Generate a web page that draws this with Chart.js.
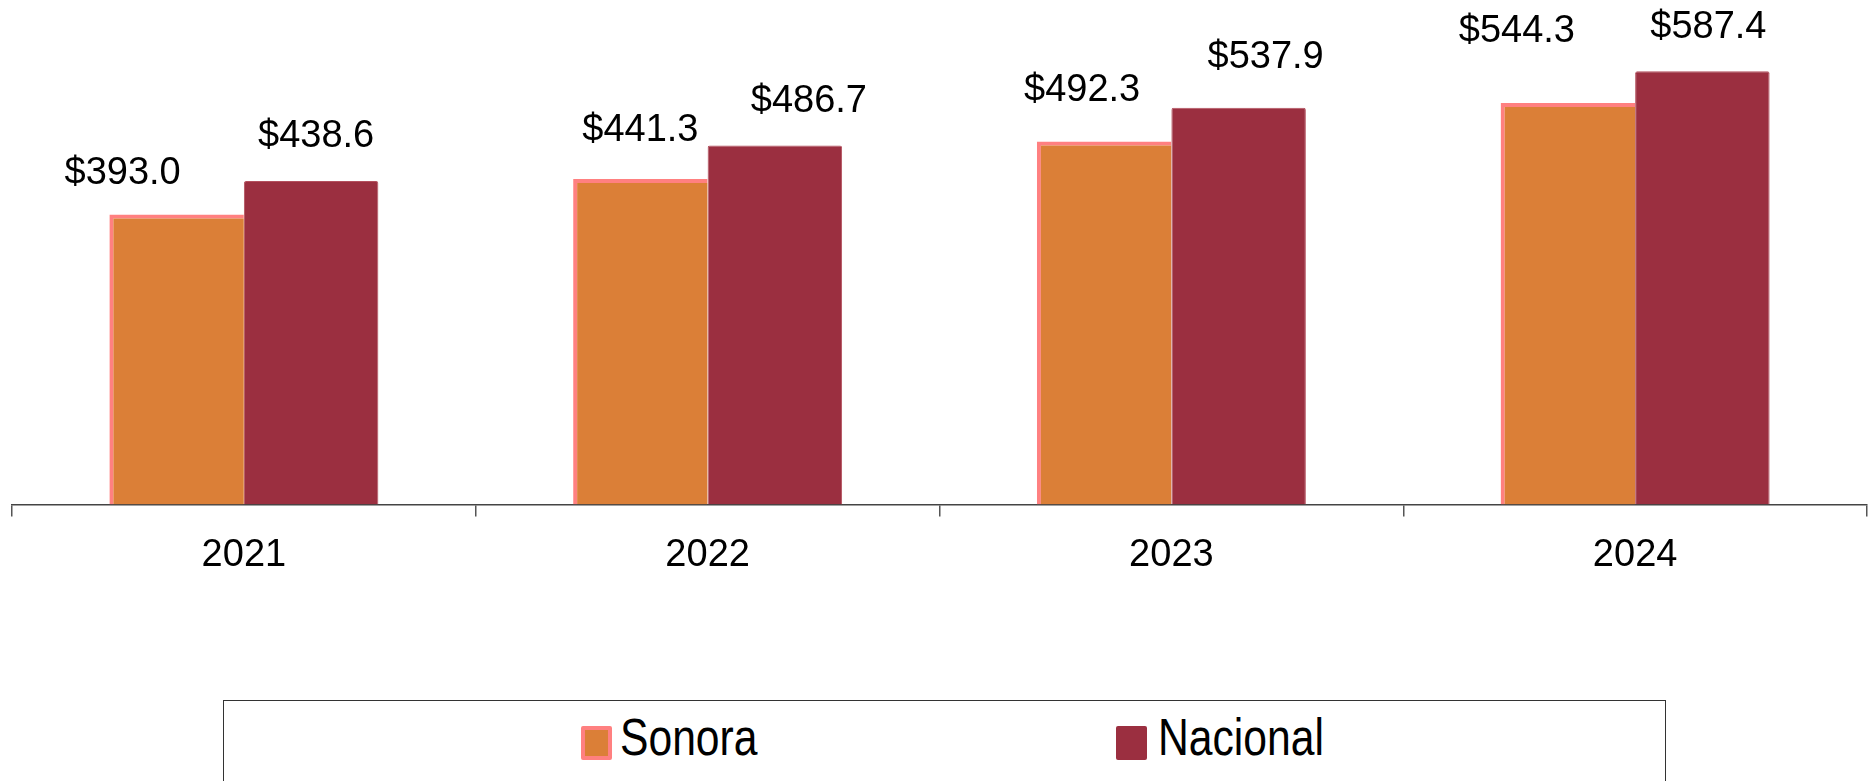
<!DOCTYPE html>
<html>
<head>
<meta charset="utf-8">
<script src="https://cdn.jsdelivr.net/npm/chart.js@4.4.1/dist/chart.umd.min.js"></script>
<style>
    html, body { margin: 0; padding: 0; background: #fff; overflow: hidden; }
    #wrap { position: relative; width: 1876px; height: 781px; }
    #chart-box { position: absolute; left: 0; top: 0; width: 1876px; height: 600px; }
    #legend {
        position: absolute; left: 223px; top: 700px; width: 1443px; height: 130px;
        border: 1.5px solid #333; box-sizing: border-box;
        font-family: "Liberation Sans", Arial, sans-serif;
        font-size: 52px; line-height: 52px; color: #000;
    }
    .swatch { position: absolute; top: 25px; width: 31px; height: 34px; box-sizing: border-box; border-radius: 2px; }
    .name { position: absolute; top: 10px; white-space: nowrap; transform: scaleX(0.82); transform-origin: left top; }
</style>
</head>
<body>
<div id="wrap">
    <div id="chart-box"><canvas id="bar-chart"></canvas></div>
    <div id="legend"></div>
</div>
<script>
// Data
const years = ['2021', '2022', '2023', '2024'];
const sonora = [393.0, 441.3, 492.3, 544.3];
const nacional = [438.6, 486.7, 537.9, 587.4];

// Label nudges (px) relative to the top centre of each bar
const sonoraLabelShift = { dx: [-54, 0, -22, -51], dy: [-41, -48, -51, -72] };
const nacionalLabelShift = { dx: [5, 34, 27, 6], dy: [-44, -44, -50, -44] };

// Legend item x positions inside the legend box (swatch, text)
const legendSlots = [[357, 396], [892, 934]];

const FONT = '"Liberation Sans", Arial, sans-serif';

// Value labels above bars
const valueLabels = {
    id: 'valueLabels',
    afterDatasetsDraw(chart) {
        const ctx = chart.ctx;
        ctx.save();
        ctx.font = '38px ' + FONT;
        ctx.fillStyle = '#000';
        ctx.textAlign = 'center';
        ctx.textBaseline = 'middle';
        chart.data.datasets.forEach((ds, di) => {
            const shift = ds.labelShift;
            chart.getDatasetMeta(di).data.forEach((bar, i) => {
                const text = '$' + ds.data[i].toFixed(1);
                ctx.fillText(text, bar.x + shift.dx[i], bar.y + shift.dy[i]);
            });
        });
        ctx.restore();
    }
};

// HTML legend built from the datasets
function buildLegend(chart) {
    const box = document.getElementById('legend');
    box.innerHTML = chart.data.datasets.map((ds, i) => {
        const bw = typeof ds.borderWidth === 'object' ? 4 : 0;
        const [sx, tx] = legendSlots[i];
        return `
            <span class="swatch" style="left:${sx}px;background:${ds.backgroundColor};border:${bw}px solid ${ds.borderColor}"></span>
            <span class="name" style="left:${tx}px">${ds.label}</span>`;
    }).join('');
}

document.addEventListener('DOMContentLoaded', () => {
    const ctx = document.getElementById('bar-chart').getContext('2d');
    const chart = new Chart(ctx, {
        type: 'bar',
        data: {
            labels: years,
            datasets: [{
                label: 'Sonora',
                data: sonora,
                backgroundColor: '#DB7F37',
                borderColor: '#FF8080',
                borderWidth: { left: 4, top: 4, right: 0, bottom: 0 },
                borderSkipped: false,
                labelShift: sonoraLabelShift,
            }, {
                label: 'Nacional',
                data: nacional,
                backgroundColor: '#9B2F40',
                borderColor: '#B4505E',
                borderWidth: 1,
                borderRadius: 2,
                borderSkipped: 'bottom',
                labelShift: nacionalLabelShift,
            }],
        },
        options: {
            responsive: true,
            maintainAspectRatio: false,
            animation: false,
            layout: { padding: { left: 12, right: 9, top: 3, bottom: 6 } },
            categoryPercentage: 0.58,
            barPercentage: 1.0,
            plugins: {
                legend: { display: false },
                tooltip: { enabled: false },
            },
            scales: {
                x: {
                    z: 1,
                    border: { display: true, color: '#444', width: 1.5 },
                    grid: {
                        display: true,
                        offset: true,
                        drawOnChartArea: false,
                        drawTicks: true,
                        tickLength: 12,
                        color: '#555',
                        lineWidth: 1.5,
                    },
                    ticks: {
                        color: '#000',
                        padding: 16,
                        font: { family: FONT, size: 38 },
                    },
                },
                y: {
                    display: false,
                    min: 0,
                    max: 680,
                },
            },
        },
        plugins: [valueLabels],
    });
    buildLegend(chart);
});
</script>
</body>
</html>
